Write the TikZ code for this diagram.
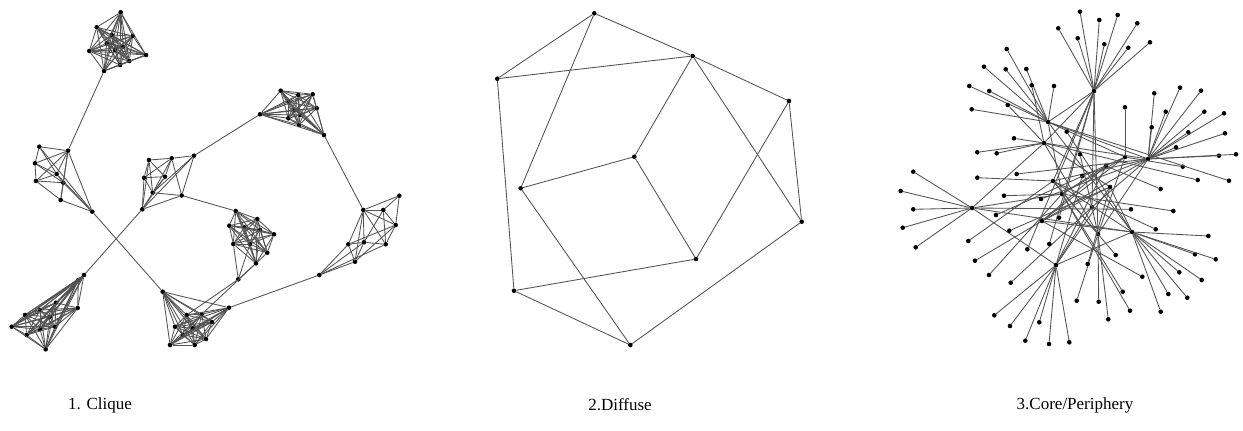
\documentclass[tikz,border=0pt]{standalone}
\usepackage{fontspec}
\setmainfont{Liberation Serif}
\newcommand\mycomplete[2]{%
  \pgfmathtruncatemacro\cgm{#2-1}%
  \foreach \i in {1,...,\cgm}{%
    \pgfmathtruncatemacro\cgk{\i+1}%
    \foreach \j in {\cgk,...,#2}{\draw[edge] (#1\i)--(#1\j);}}}
\begin{document}
\begin{tikzpicture}[x=1pt,y=-1pt,
  dot/.style={circle,fill=black,inner sep=0pt,minimum size=4.6pt},
  edge/.style={draw=black!68,line width=0.85pt},
  lbl/.style={font=\fontsize{17}{20}\selectfont,inner sep=0pt}]
\useasboundingbox (0,0) rectangle (1243,431);
\fill[white] (0,0) rectangle (1243,431);

% ================= 1. Clique =================
% top cluster
\foreach \x/\y [count=\n] in {120.7/12.3,96.7/27.3,132.7/36,89.3/51,146/55,129.3/61,120/65,104/71,106.7/43.3,115/50,123.3/46.7,111.7/35}
  {\node[dot] (t\n) at (\x,\y) {};}
\mycomplete{t}{12}
% left cluster
\foreach \x/\y [count=\n] in {39.3/146.7,68/150.7,35/163.3,56.7/174,36/181,63.3/182.7,60.7/200,92.3/211.7}
  {\node[dot] (l\n) at (\x,\y) {};}
\foreach \a/\b in {1/2,1/3,1/4,1/8,2/3,2/4,2/5,2/6,2/7,2/8,3/4,3/5,3/6,4/5,4/6,4/8,5/6,5/7,6/7,6/8,7/8}
  {\draw[edge] (l\a)--(l\b);}
% middle-left cluster
\foreach \x/\y [count=\n] in {149/160,171.7/158.3,194/155.7,144/177.7,165/176.7,152.7/192.7,181.7/195.5,142.3/209.3}
  {\node[dot] (m\n) at (\x,\y) {};}
\foreach \a/\b in {1/2,2/3,1/4,1/5,1/6,2/5,2/6,2/7,3/6,3/7,3/8,4/5,4/6,4/8,5/6,5/8,6/7,6/8,7/8,1/8,2/4}
  {\draw[edge] (m\a)--(m\b);}
% lower-left cluster
\foreach \x/\y [count=\n] in {84/275,78.3/280,56/302.7,77.7/308,40/310,25/315,50/316.7,11.7/326.7,40/329.3,55/326.7,26.7/335,45.7/349.3}
  {\node[dot] (b\n) at (\x,\y) {};}
\mycomplete{b}{12}
% bottom-middle cluster
\foreach \x/\y [count=\n] in {162.7/291.7,229/307.7,201.7/314.3,186.7/315,175/326.7,192.7/328.3,206/339,194.7/345,170/345,212/322,183/335}
  {\node[dot] (c\n) at (\x,\y) {};}
\mycomplete{c}{11}
% centre cluster
\foreach \x/\y [count=\n] in {235.7/211,257.3/219,229.3/225.7,244.3/227.3,260/230,274/234.3,233.3/244,250/244,267.3/252.7,256/263.3,238.3/279.3}
  {\node[dot] (q\n) at (\x,\y) {};}
\mycomplete{q}{10}
\foreach \a in {7,8,10}{\draw[edge] (q11)--(q\a);}
% top-right cluster
\foreach \x/\y [count=\n] in {260/114.3,280.7/90.7,298.3/95,312.7/94.3,288.3/101.7,295/110,316.7/108.3,300/115,288.3/118.3,299/125,324/135}
  {\node[dot] (r\n) at (\x,\y) {};}
\mycomplete{r}{11}
% right cluster
\foreach \x/\y [count=\n] in {399.3/195.7,363.3/210,383.3/210,395.7/225,348.3/244.3,364/242.3,385.7/244.3,355/261.7,319.3/275}
  {\node[dot] (e\n) at (\x,\y) {};}
\foreach \a/\b in {1/2,1/3,1/4,2/3,2/4,3/4,2/5,2/6,2/7,2/8,3/6,3/7,4/5,4/8,4/7,5/6,6/7,5/8,6/8,5/9,8/9,7/9,6/9}
  {\draw[edge] (e\a)--(e\b);}
% bridges
\draw[edge] (t8)--(l2);
\draw[edge] (l8)--(c1);
\draw[edge] (m8)--(b1);
\draw[edge] (m3)--(r1);
\draw[edge] (m7)--(q1);
\draw[edge] (r11)--(e2);
\draw[edge] (c2)--(e9);
\draw[edge] (q11)--(c4);
\draw[edge] (q10)--(c3);

% ================= 2. Diffuse =================
\node[dot] (dA) at (594.3,13.3) {};
\node[dot] (dB) at (692.7,56) {};
\node[dot] (dC) at (497.3,78.7) {};
\node[dot] (dD) at (789,101) {};
\node[dot] (dE) at (634.3,156.7) {};
\node[dot] (dF) at (520.7,188.3) {};
\node[dot] (dG) at (801.7,221.7) {};
\node[dot] (dH) at (696,259) {};
\node[dot] (dI) at (514,290.7) {};
\node[dot] (dJ) at (630.3,345) {};
\foreach \a/\b in {A/C,A/B,A/F,C/B,C/I,B/D,B/E,B/G,D/G,D/H,E/F,E/H,F/J,H/I,I/J,J/G}
  {\draw[edge] (d\a)--(d\b);}

% ================= 3. Core/Periphery =================
\foreach \x/\y [count=\n] in {1094/91,1048/122,1044/143,1125/157,1148/159,1106/166,972/208,1053/181,1062/194,1092/207,1110/187,1042/221,1098/234,1132/232,1056/265}
  {\node[dot] (k\n) at (\x,\y) {};}
\foreach \a/\b in {1/2,1/3,1/8,1/10,1/13,2/5,2/4,2/9,2/14,3/5,3/7,3/11,3/13,7/15,7/9,7/14,8/5,8/14,8/13,9/4,10/5,10/15,11/15,11/12,12/4,12/14,12/5,6/15,6/12,13/5,14/15,4/13,6/9,11/14}
  {\draw[edge] (k\a)--(k\b);}
\foreach \x/\y/\h [count=\n] in {
  1080/11.7/k1,1099.3/20/k1,1117.7/15/k1,1058.3/28.3/k1,1137.3/23.3/k1,1077.7/38.3/k1,1104.3/44.3/k1,1128.3/47.7/k1,1150/42.3/k1,
  1006.7/49/k2,984/66.7/k2,1005.7/69.3/k2,1026.3/69/k2,969.3/86/k2,989.3/91/k2,971.7/109.3/k2,1054/86/k2,
  1031.7/85.3/k3,1007.7/105/k3,1014/138.3/k3,977.3/152.3/k3,996.7/153.3/k3,
  977.3/177.7/k8,1004/195.7/k9,
  1154.3/93.3/k5,1180/87.7/k5,1201/90.7/k5,1165.7/111.7/k5,1204.3/111.7/k5,1224/113.3/k5,1151.7/127.3/k5,1188.3/132.3/k5,1225/133.3/k5,1176/147.3/k5,1219/155.7/k5,1236/154.3/k5,
  1125/107.3/k4,1182.7/166.7/k4,1016.7/174/k5,1066.7/131.7/k14,1080/154.3/k13,1082.3/176/k15,1131/209.3/k7,
  1208.3/236/k14,1195/254.3/k14,1215.7/259.3/k14,1179.3/272.3/k14,1201.7/280/k14,1168.3/294/k14,1187.3/297.7/k14,1160.7/311.7/k14,
  1197.7/180/k3,1229/180.7/k2,1160.7/189/k6,1173.3/211/k9,1155.7/229.3/k8,
  1076.7/300.7/k13,1098.7/301.7/k13,1108.3/319.3/k13,
  1122.7/291.7/k9,1130/310.7/k9,1142.3/276.7/k12,1115.7/255/k8,1087.7/264/k11,
  994.3/315.3/k15,1010/326/k15,1039.3/322.3/k15,1025.3/340.7/k15,1049/344/k15,1069.3/342.3/k15,
  913.3/171.7/k7,900.7/191/k7,913.3/209.3/k7,902.7/227.7/k7,915.7/247.3/k7,
  968.3/241/k8,975/260.7/k12,989/275/k9,1010.7/282.7/k10,1009.3/230.7/k11,996/215/k4,1027.3/249.3/k1,1049.3/244/k1,1059/217.7/k1,1041/199/k5}
  {\node[dot] (p\n) at (\x,\y) {}; \draw[edge] (p\n)--(\h);}

% ================= labels =================
\node[lbl] (lab1) at (100,405) {1. Clique};
\node[lbl] (lab2) at (620,405) {2.Diffuse};
\node[lbl] (lab3) at (1075,405) {3.Core/Periphery};
\end{tikzpicture}
\end{document}
